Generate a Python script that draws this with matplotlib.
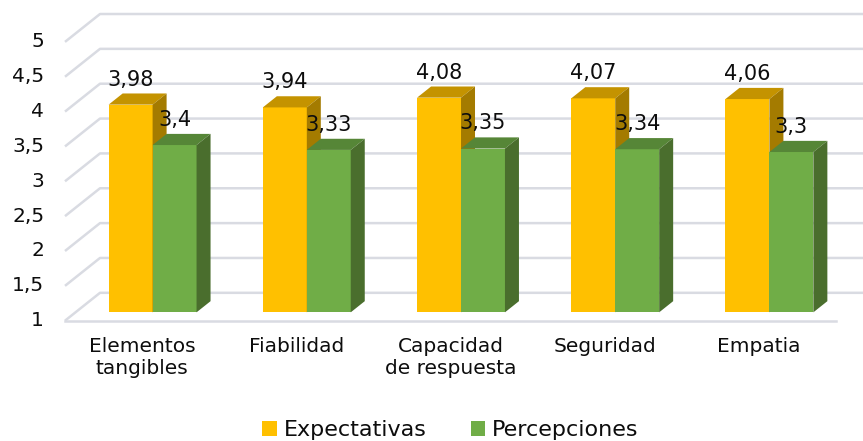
import matplotlib.pyplot as plt
from matplotlib.patches import Polygon, Patch

categories = ['Elementos\ntangibles', 'Fiabilidad', 'Capacidad\nde respuesta', 'Seguridad', 'Empatia']
expectativas = [3.98, 3.94, 4.08, 4.07, 4.06]
percepciones = [3.4, 3.33, 3.35, 3.34, 3.3]
yticks = [1, 1.5, 2, 2.5, 3, 3.5, 4, 4.5, 5]
series = [('Expectativas', expectativas, '#FFC000', '#C49300', '#A47B00'),
          ('Percepciones', percepciones, '#70AD47', '#568637', '#4A6E2D')]

# fake 3d: depth d moves a point by (d*DX, d*DY) in data units
DX, DY = 0.227, 0.40
D0, D1 = 0.3, 0.7       # front / back face depth of bars
W = 0.285               # bar width
BASE = 1
grid_c = '#D9DBE2'
txt_c = '#0d0d0d'

fig = plt.figure(figsize=(8.63, 4.41), dpi=100)
ax = fig.add_axes([0, 0, 1, 1])
ax.set_xlim(-0.4215, 5.175)
ax.set_ylim(-0.726, 5.601)
ax.axis('off')

n = len(categories)
# walls / gridlines
for v in yticks:
    ax.plot([0, DX, n + DX], [v, v + DY, v + DY], color=grid_c, lw=1.8, zorder=1,
            solid_capstyle='butt')
ax.plot([0, n], [BASE, BASE], color=grid_c, lw=1.8, zorder=1)

def shade(x0, v, col_top, col_side):
    x1 = x0 + W
    yb, yt = BASE + D0 * DY, v + D0 * DY
    dx, dy = (D1 - D0) * DX, (D1 - D0) * DY
    top = [(x0, yt), (x1, yt), (x1 + dx, yt + dy), (x0 + dx, yt + dy)]
    side = [(x1, yb), (x1 + dx, yb + dy), (x1 + dx, yt + dy), (x1, yt)]
    ax.add_patch(Polygon(top, closed=True, facecolor=col_top, edgecolor='none', zorder=3))
    ax.add_patch(Polygon(side, closed=True, facecolor=col_side, edgecolor='none', zorder=3))

for i in range(n):
    for s, (name, vals, cf, ct, cs) in enumerate(series):
        v = vals[i]
        x0 = i + 0.5 - W + s * W + D0 * DX
        ax.bar(x0, v - BASE, width=W, bottom=BASE + D0 * DY, align='edge',
               color=cf, edgecolor='none', zorder=3)
        shade(x0, v, ct, cs)
        ax.text(x0 + W / 2, v + D1 * DY + 0.2, str(v).replace('.', ','),
                ha='center', va='center', fontsize=15, color=txt_c, zorder=5)

for v in yticks:
    ax.text(-0.135, v, str(v).replace('.', ','), ha='right', va='center',
            fontsize=14.5, color=txt_c)

for i, c in enumerate(categories):
    ax.text(i + 0.5, 0.77, c, ha='center', va='top', fontsize=14.5,
            color=txt_c, linespacing=1.2)

handles = [Patch(facecolor=cf, label=name) for name, vals, cf, ct, cs in series]
leg = fig.legend(handles=handles, loc='center', bbox_to_anchor=(0.522, 0.024), ncol=2,
                 frameon=False, fontsize=16, handlelength=0.65, handleheight=0.65,
                 handletextpad=0.3, columnspacing=2.0)
for t in leg.get_texts():
    t.set_color(txt_c)

fig.savefig('out.png', dpi=100)
